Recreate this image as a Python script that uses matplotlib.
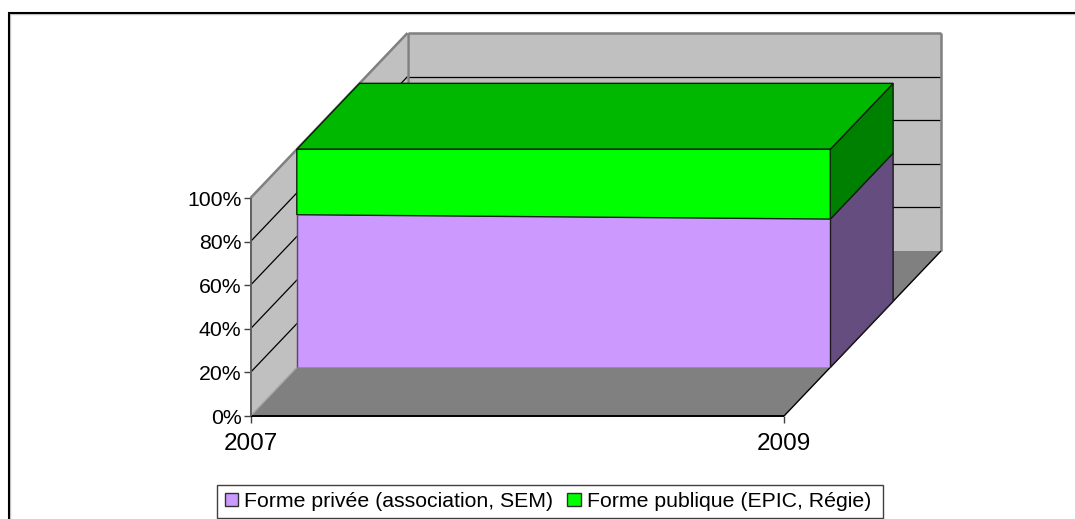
import numpy as np
import matplotlib
matplotlib.use('Agg')
import matplotlib.pyplot as plt
from matplotlib.patches import Polygon, Patch, Rectangle

plt.rcParams['font.family'] = ['Liberation Sans', 'DejaVu Sans']

# data
years = ['2007', '2009']
labels = ['Forme privée (association, SEM)', 'Forme publique (EPIC, Régie)']
privee = np.array([70.0, 68.0])
publique = np.array([30.0, 32.0])
pct_ticks = [0, 20, 40, 60, 80, 100]

# fake 3d: how far one unit of depth moves a point, in data units
depth_x = 157 / 533.5
depth_y = 165 / 218 * 100
bar_front = 0.295
bar_back = 0.695

W, H = 1075, 519
fig = plt.figure(figsize=(W / 100, H / 100), dpi=100)
ax = fig.add_axes([250.5 / W, (H - 416) / H, 533.5 / W, 218 / H])
ax.set_xlim(0, 1)
ax.set_ylim(0, 100)
ax.patch.set_visible(False)
for s in ax.spines.values():
    s.set_visible(False)

order = [1]  # painter's order, back to front


def proj(x, y, d):
    return (x + d * depth_x, y + d * depth_y)


def face(pts, fc, ec='none', lw=1.0):
    order[0] += 1
    ax.add_patch(Polygon([proj(*p) for p in pts], closed=True, facecolor=fc,
                         edgecolor=ec, linewidth=lw, clip_on=False, joinstyle='miter',
                         zorder=order[0]))


def line(p0, p1, c='k', lw=1.0):
    order[0] += 1
    a, b = proj(*p0), proj(*p1)
    ax.plot([a[0], b[0]], [a[1], b[1]], color=c, lw=lw, clip_on=False,
            solid_capstyle='butt', zorder=order[0])


# walls and floor
face([(0, 0, 0), (0, 100, 0), (0, 100, 1), (0, 0, 1)], '#C0C0C0')
face([(0, 0, 1), (0, 100, 1), (1, 100, 1), (1, 0, 1)], '#C0C0C0')
face([(0, 0, 0), (1, 0, 0), (1, 0, 1), (0, 0, 1)], '#808080')
for p in pct_ticks[1:-1]:
    line((0, p, 0), (0, p, 1), 'k', 0.9)
    line((0, p, 1), (1, p, 1), 'k', 0.9)
line((0, 100, 0), (0, 100, 1), '#808080', 1.8)
line((0, 100, 1), (1, 100, 1), '#808080', 1.8)
line((1, 100, 1), (1, 0, 1), '#808080', 1.8)
line((0, 100, 1), (0, 0, 1), '#808080', 1.8)
line((0, 0, 1), (0, 0, 0), '#A8A8A8', 1.0)
line((1, 0, 0), (1, 0, 1), 'k', 1.0)
line((0, 0, 0), (1, 0, 0), 'k', 1.4)
line((0, 0, 0), (0, 100, 0), '#606060', 1.4)

# stacked areas
top1 = privee
top2 = privee + publique
f, b = bar_front, bar_back
face([(1, 0, f), (1, top1[1], f), (1, top1[1], b), (1, 0, b)], '#664D80', '#1A1A1A')
face([(1, top1[1], f), (1, top2[1], f), (1, top2[1], b), (1, top1[1], b)], '#008000', '#0A200A')
face([(0, top2[0], f), (1, top2[1], f), (1, top2[1], b), (0, top2[0], b)], '#00B800', '#0A200A')
face([(0, 0, f), (1, 0, f), (1, top1[1], f), (0, top1[0], f)], '#CC99FF')
face([(0, top1[0], f), (1, top1[1], f), (1, top2[1], f), (0, top2[0], f)], '#00FF00', '#0A200A')
line((0, 0, f), (0, top1[0], f), '#505050', 1.0)
line((1, 0, f), (1, top1[1], f), '#1A1A1A', 1.0)

ax.set_xticks([0, 1])
ax.set_xticklabels(years, fontsize=17.5)
ax.set_yticks(pct_ticks)
ax.set_yticklabels([f'{p}%' for p in pct_ticks], fontsize=15.3)
ax.tick_params(axis='x', length=5, width=1, color='#404040', pad=7.5)
ax.tick_params(axis='y', length=5, width=1, color='#404040', pad=1.5)

# chart frame, runs off the right and bottom of the picture
fig.add_artist(Rectangle((10 / W, -0.1), 1.2, (H - 14) / H + 0.1, transform=fig.transFigure,
                         fill=False, edgecolor='#C8C8C8', linewidth=1.0))
fig.add_artist(Rectangle((8.5 / W, -0.1), 1.2, (H - 12.5) / H + 0.1, transform=fig.transFigure,
                         fill=False, edgecolor='k', linewidth=1.5))

# legend box
fig.add_artist(Rectangle((216.5 / W, (H - 518) / H), 666.5 / W, 33.5 / H, transform=fig.transFigure,
                         facecolor='white', edgecolor='#404040', linewidth=1.0))
handles = [Patch(facecolor='#CC99FF', edgecolor='#303030', label=labels[0]),
           Patch(facecolor='#00FF00', edgecolor='#303030', label=labels[1])]
leg = fig.legend(handles=handles, ncols=2, loc='center',
                 bbox_to_anchor=(548 / W, (H - 501.5) / H), fontsize=15.3,
                 frameon=False, borderpad=0, handlelength=0.62, handleheight=0.62,
                 handletextpad=0.3, columnspacing=0.66, borderaxespad=0)

fig.savefig('out.png', dpi=100)
